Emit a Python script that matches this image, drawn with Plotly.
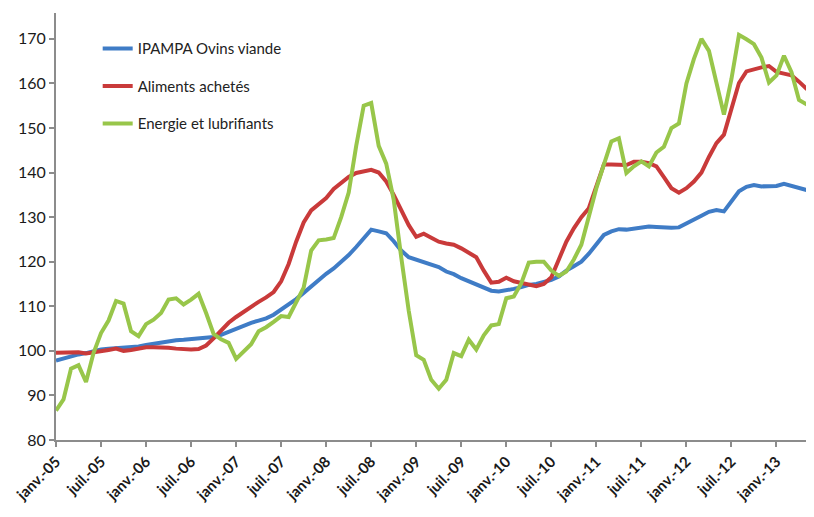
import plotly.graph_objects as go

# monthly series, janv.-05 .. juin-13
ipampa = [97.8, 98.3, 98.8, 99.2, 99.5, 100.0, 100.3, 100.5, 100.6, 100.7, 100.8, 101.0,
          101.3, 101.6, 102.0, 102.3, 102.4, 102.5, 102.6, 102.7, 102.8, 103.1, 103.6, 104.3,
          104.8, 105.5, 106.3, 106.8, 107.3, 108.1, 109.2, 110.3, 111.6, 113.0, 114.4, 116.0,
          117.3, 118.5, 120.0, 121.5, 123.3, 125.2, 127.2, 126.8, 126.4, 124.6, 122.5, 121.0,
          120.5, 120.0, 119.3, 118.8, 117.8, 117.2, 116.3, 115.6, 115.0, 114.2, 113.5, 113.3,
          113.5, 113.9, 114.3, 114.8, 115.0, 115.4, 115.9, 116.7, 118.0, 119.0, 120.0, 121.8,
          123.8, 126.0, 126.8, 127.3, 127.2, 127.4, 127.7, 127.9, 127.8, 127.6, 127.6, 127.7,
          128.5, 129.4, 130.3, 131.2, 131.6, 131.3, 133.5, 135.8, 136.8, 137.2, 136.9, 136.9,
          137.0, 137.5, 137.0, 136.4, 136.0, 135.6]

aliments = [99.6, 99.7, 99.8, 99.7, 99.4, 99.6, 100.0, 100.2, 100.5, 100.0, 100.2, 100.6,
            100.8, 100.8, 100.8, 100.7, 100.5, 100.3, 100.3, 100.4, 101.2, 102.8, 104.6, 106.3,
            107.6, 108.8, 110.0, 111.0, 112.0, 113.2, 115.6, 119.5, 124.5, 128.8, 131.5, 132.8,
            134.3, 136.3, 137.6, 139.0, 139.9, 140.2, 140.6, 140.0, 138.0, 135.0, 131.5, 128.2,
            125.6, 126.3, 125.4, 124.5, 124.1, 123.8, 123.0, 122.0, 121.0, 118.0, 115.3, 115.5,
            116.4, 115.6, 115.3, 115.0, 114.5, 115.0, 116.5, 120.5, 124.5, 127.5, 130.0, 132.0,
            136.9, 141.8, 141.8, 141.7, 141.7, 142.4, 142.4, 142.1, 141.4, 139.0, 136.5, 135.5,
            136.5, 138.0, 140.0, 143.5, 146.6, 148.5, 154.1, 160.1, 162.7, 163.2, 163.6, 163.9,
            162.6, 162.2, 161.8, 160.4, 158.8, 158.2]

energie = [86.6, 89.1, 96.0, 96.8, 93.0, 99.5, 104.0, 106.8, 111.2, 110.6, 104.4, 103.3,
           106.0, 107.0, 108.5, 111.5, 111.8, 110.4, 111.5, 112.8, 108.5, 103.8, 102.6, 101.8,
           98.2, 100.0, 101.5, 104.4, 105.3, 106.5, 107.8, 107.6, 111.0, 114.2, 122.5, 124.8,
           125.0, 125.3, 130.0, 135.5, 146.0, 155.0, 155.6, 146.0, 142.0, 133.9, 121.0, 109.0,
           99.0, 98.0, 93.5, 91.5, 93.5, 99.5, 98.8, 102.5, 100.3, 103.5, 105.7, 106.0,
           111.8, 112.2, 115.2, 119.8, 120.0, 120.0, 118.0, 116.8, 117.8, 120.5, 123.8, 130.5,
           136.5, 141.8, 147.0, 147.7, 139.9, 141.4, 142.5, 141.4, 144.5, 145.8, 150.0, 151.0,
           160.0, 165.5, 170.0, 167.3, 160.5, 153.0, 161.0, 170.9, 169.9, 168.8, 165.8, 160.2,
           161.8, 166.2, 162.5, 156.3, 155.3, 155.2]

months = list(range(len(ipampa)))
tick_labels = []
for yr in range(5, 14):
    tick_labels += [f"janv.-{yr:02d}", f"juil.-{yr:02d}"]
tick_labels = tick_labels[:17]
tick_pos = [6 * i for i in range(len(tick_labels))]

fig = go.Figure()
series = [("IPAMPA Ovins viande", ipampa, "#3F7CC6"),
          ("Aliments achetés", aliments, "#C93A3A"),
          ("Energie et lubrifiants", energie, "#98C64A")]
for i, (name, vals, col) in enumerate(series):
    fig.add_trace(go.Scatter(x=months, y=vals, mode="lines", name=name,
                             legendgroup=str(i),
                             line=dict(color=col, width=4)))

# page body has an 8px margin, so the figure is 8px smaller on both sides
fig.update_layout(
    width=806, height=509,
    margin=dict(l=48, r=0, t=5, b=77),
    plot_bgcolor="white", paper_bgcolor="white",
    font=dict(family="Lato, Open Sans, sans-serif", size=14, color="#222222"),
    legend=dict(x=0.055, y=0.955, xanchor="left", yanchor="top",
                bgcolor="rgba(0,0,0,0)", tracegroupgap=15,
                font=dict(size=15, color="#222222")),
    showlegend=True,
)
fig.update_xaxes(range=[0, 101], tickvals=tick_pos, ticktext=tick_labels,
                 tickangle=-45, showgrid=False, zeroline=False, automargin=False,
                 showline=True, linecolor="#8c8c8c", linewidth=2,
                 ticks="outside", ticklen=5, tickcolor="#8c8c8c", tickwidth=2,
                 tickfont=dict(size=15, color="#1a1a1a", weight="bold"))
fig.update_yaxes(range=[80, 175.8], tickvals=list(range(80, 171, 10)),
                 showgrid=False, zeroline=False, automargin=False,
                 showline=True, linecolor="#8c8c8c", linewidth=2,
                 ticks="outside", ticklen=5, tickcolor="#8c8c8c", tickwidth=2,
                 tickfont=dict(size=16, color="#1a1a1a"))

fig.write_html("out.html")
